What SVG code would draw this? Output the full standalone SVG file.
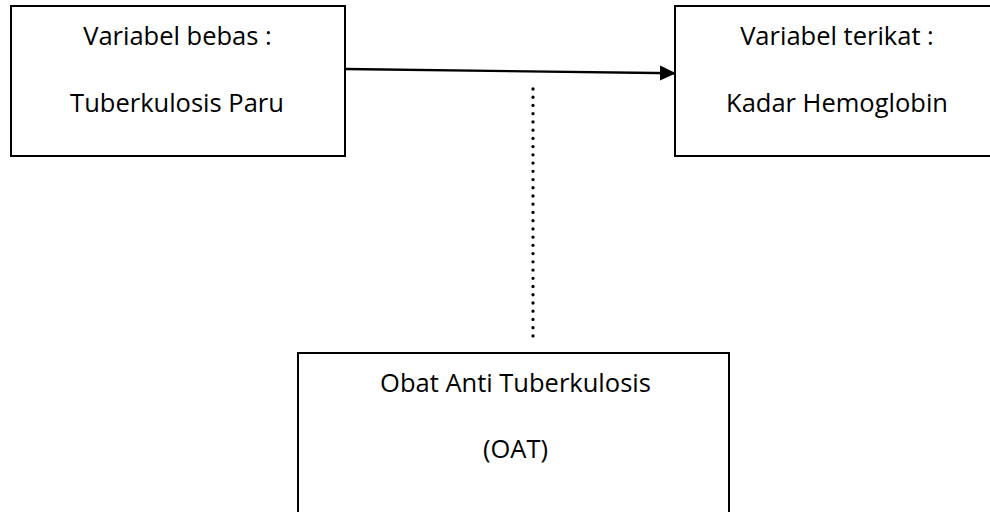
<svg xmlns="http://www.w3.org/2000/svg" width="990" height="512" viewBox="0 0 990 512">
<defs>
<style>
.box{fill:#fff;stroke:#000;stroke-width:2}
.t{font-family:"Open Sans","Liberation Sans",sans-serif;font-size:25.5px;fill:#000;text-anchor:middle}
.conn{stroke:#000;stroke-width:2.4;fill:none}
.dot{stroke:#000;stroke-width:3.3;stroke-linecap:round;stroke-dasharray:0 8.23;fill:none}
</style>
<marker id="ah" markerWidth="16" markerHeight="16" refX="15" refY="8" orient="auto" markerUnits="userSpaceOnUse" viewBox="0 0 16 16">
<polygon points="0,0.5 16,8 0,15.5" fill="#000"/>
</marker>
</defs>
<rect width="990" height="512" fill="#fff"/>
<g id="node-bebas">
<rect class="box" x="11" y="6" width="334" height="150"/>
<text class="t" x="177.5" y="45">Variabel bebas :</text>
<text class="t" x="177" y="112">Tuberkulosis Paru</text>
</g>
<g id="node-terikat">
<rect class="box" x="675" y="6" width="325" height="150"/>
<text class="t" x="837" y="45">Variabel terikat :</text>
<text class="t" x="837" y="112">Kadar Hemoglobin</text>
</g>
<g id="node-oat">
<rect class="box" x="298" y="353" width="431" height="170"/>
<text class="t" x="515.5" y="392">Obat Anti Tuberkulosis</text>
<text class="t" x="515.5" y="458">(OAT)</text>
</g>
<g id="connectors">
<line class="conn" x1="345" y1="69" x2="675" y2="73.3" marker-end="url(#ah)"/>
<line class="dot" x1="533" y1="89" x2="533" y2="336"/>
</g>
</svg>
